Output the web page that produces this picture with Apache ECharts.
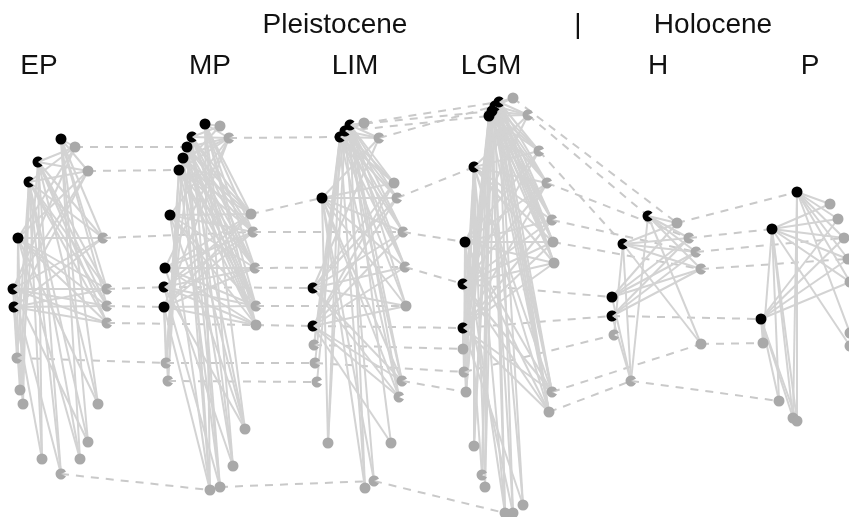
<!DOCTYPE html>
<html><head><meta charset="utf-8">
<script src="https://cdn.jsdelivr.net/npm/echarts@6/dist/echarts.min.js"></script>
<style>html,body{margin:0;padding:0;background:#fff}#c{width:849px;height:517px}</style>
</head><body><div id="c"></div>
<script>
// Period (network) labels and epoch labels
const periods = ['EP', 'MP', 'LIM', 'LGM', 'H', 'P'];
const epochs = ['Pleistocene', '|', 'Holocene'];

// Nodes of each period network: [x, y, role]
// roles: B = predator, BN = predator (notched), G = prey, GN = prey (notched)
const nodesEP = [[61,139,'B'],[75,147,'G'],[38,162,'BN'],[88,171,'G'],[29,182,'BN'],[18,238,'B'],[103,238,'GN'],[13,289,'BN'],[107,289,'GN'],[14,307,'BN'],[107,306,'GN'],[107,323,'GN'],[17,358,'GN'],[20,390,'G'],[23,404,'G'],[98,404,'G'],[88,442,'G'],[42,459,'G'],[80,459,'G'],[61,474,'GN']];
const nodesMP = [[205,124,'B'],[220,126,'G'],[192,137,'BN'],[229,138,'GN'],[187,147,'B'],[183,158,'B'],[179,170,'B'],[170,215,'B'],[251,214,'G'],[253,232,'GN'],[165,268,'B'],[255,268,'GN'],[164,287,'BN'],[164,307,'B'],[256,306,'GN'],[256,325,'G'],[166,363,'GN'],[168,381,'GN'],[245,429,'G'],[233,466,'G'],[210,490,'G'],[220,487,'G']];
const nodesLIM = [[350,125,'BN'],[345,131,'BN'],[340,137,'BN'],[364,123,'G'],[379,138,'GN'],[322,198,'B'],[394,183,'G'],[397,198,'GN'],[403,232,'GN'],[405,267,'GN'],[313,288,'BN'],[406,306,'G'],[313,326,'BN'],[314,345,'GN'],[315,363,'GN'],[317,382,'GN'],[402,381,'GN'],[399,397,'GN'],[328,443,'G'],[391,443,'G'],[365,488,'G'],[374,481,'GN']];
const nodesLGM = [[499,102,'BN'],[495,106,'BN'],[492,111,'B'],[489,116,'B'],[513,98,'G'],[528,115,'GN'],[539,151,'GN'],[474,167,'BN'],[547,183,'GN'],[552,220,'GN'],[465,242,'B'],[553,242,'G'],[554,263,'G'],[463,284,'BN'],[463,328,'BN'],[463,349,'G'],[464,372,'GN'],[466,392,'G'],[552,392,'GN'],[549,412,'G'],[474,446,'G'],[482,475,'GN'],[485,487,'G'],[523,505,'G'],[505,513,'G'],[513,513,'G']];
const nodesH = [[648,216,'BN'],[677,223,'G'],[623,244,'BN'],[689,238,'GN'],[696,252,'GN'],[701,269,'GN'],[612,297,'B'],[612,316,'BN'],[614,335,'GN'],[701,344,'G'],[631,381,'GN']];
const nodesP = [[797,192,'B'],[830,204,'G'],[838,219,'G'],[772,229,'B'],[844,238,'G'],[848,259,'G'],[850,282,'G'],[761,319,'B'],[763,343,'G'],[850,333,'G'],[850,346,'G'],[779,401,'G'],[793,418,'G'],[797,421,'G']];

// Trophic links inside each network: [predator, prey list]
const linksEP = [[0,[1,3,6,8,10,15,16,18]],[2,[1,3,6,8,10,11,15,17,19,13]],[4,[1,3,6,8,10,11,12,13,14,16,17,18,19]],[5,[1,3,6,8,10,11,12,14,15,18]],[7,[1,3,6,8,10,11,13,16,19]],[9,[3,6,8,10,11,12,14,17]]];
const linksMP = [[0,[1,3,8,9,11,14,15,18,19,20]],[2,[1,3,8,9,11,14,15,16,19,21]],[4,[3,8,9,11,14,15,18,20,21]],[5,[3,8,9,11,14,15,16,17,19,20]],[6,[1,3,8,9,11,14,15,16,17,18,21]],[7,[3,8,9,11,14,15,18,20]],[10,[3,8,9,11,14,15,19]],[12,[8,9,11,14,15,18,21]],[13,[3,8,9,11,14,15,16,17,20]]];
const linksLIM = [[0,[3,4,6,7,8,9,11,16,17,19,20]],[1,[3,4,6,7,8,9,13,16,18,21]],[2,[4,6,7,8,9,11,13,14,15,17,18,20]],[5,[4,6,7,8,9,11,16,17,18,20,21]],[10,[4,6,7,8,9,11,16,17]],[12,[6,7,8,9,11,16,17,19]]];
const linksLGM = [[0,[4,5,6,8,9,11,12,18,19,23,25]],[1,[4,5,6,8,9,11,12,18,19,22,24]],[2,[5,6,8,9,11,12,15,16,17,18,19,20,21,24]],[3,[5,6,8,9,11,12,15,16,17,19,20,21,22,23,25]],[7,[5,6,8,9,11,12,15,16,17,18,19,20,22,24]],[10,[5,6,8,9,11,12,16,17,18,19,21,24]],[13,[6,8,9,11,12,18,19,25]],[14,[8,9,11,12,15,16,17,18,19,23]]];
const linksH = [[0,[1,3,4,5,9,10]],[2,[1,3,4,5,8,9,10]],[6,[1,3,4,5,10]],[7,[3,4,5,10]]];
const linksP = [[0,[1,2,4,5,6,9,12,13]],[3,[1,2,4,5,6,8,10,11,12,13]],[7,[2,4,5,6,8,11,12,13]]];

// Same taxon in consecutive periods: [period A, node A, period B, node B]
const persist = [
  [0,1,1,4],[0,3,1,6],[0,6,1,9],[0,8,1,12],[0,10,1,13],[0,11,1,15],[0,12,1,16],[0,19,1,20],
  [1,3,2,2],[1,8,2,5],[1,9,2,8],[1,11,2,9],[1,12,2,10],[1,14,2,11],[1,15,2,12],[1,16,2,14],[1,17,2,15],[1,21,2,21],
  [2,3,3,0],[2,4,3,1],[2,0,3,2],[2,1,3,3],[2,7,3,7],[2,8,3,10],[2,9,3,13],[2,12,3,14],[2,13,3,15],[2,14,3,16],[2,16,3,17],[2,21,3,24],
  [3,4,4,1],[3,5,4,0],[3,6,4,2],[3,8,4,3],[3,9,4,4],[3,11,4,5],[3,13,4,6],[3,14,4,7],[3,16,4,8],[3,18,4,9],[3,19,4,10],
  [4,1,5,0],[4,3,5,3],[4,4,5,4],[4,5,5,5],[4,7,5,7],[4,9,5,8],[4,10,5,11]
];

const networks = [nodesEP, nodesMP, nodesLIM, nodesLGM, nodesH, nodesP];
const webs = [linksEP, linksMP, linksLIM, linksLGM, linksH, linksP];

const pos = (n) => [n[0], n[1]];
const solid = [];
webs.forEach((w, k) => w.forEach(([a, list]) => list.forEach(b => {
  solid.push({ coords: [pos(networks[k][a]), pos(networks[k][b])] });
})));
const dashed = persist.map(([p, a, q, b]) => ({ coords: [pos(networks[p][a]), pos(networks[q][b])] }));

const pacWide = 'path://M0,0 L8.19,-5.74 A10,10 0 1,0 8.19,5.74 Z M10,0 L10,0.01';
const pacThin = 'path://M0,0 L9.06,-4.23 A10,10 0 1,0 9.06,4.23 Z M10,0 L10,0.01';
const roles = {
  B: { color: '#000000', symbol: 'circle' },
  BN: { color: '#000000', symbol: pacWide },
  G: { color: '#a9a9a9', symbol: 'circle' },
  GN: { color: '#a9a9a9', symbol: pacThin }
};
const nodeSeries = Object.keys(roles).map(r => ({
  type: 'scatter', clip: false, z: 5, symbol: roles[r].symbol, symbolSize: 11,
  itemStyle: { color: roles[r].color, opacity: 1 },
  silent: true,
  data: networks.flat().filter(n => n[2] === r).map(pos)
}));

const periodX = [39, 210, 355, 491, 658, 810];
const epochX = [335, 578, 713];
const graphic = [];
periods.forEach((t, i) => graphic.push({ type: 'text', x: periodX[i], y: 66,
  style: { text: t, fill: '#111', font: '28px "Liberation Sans", Arial, sans-serif', textAlign: 'center', textVerticalAlign: 'middle' } }));
epochs.forEach((t, i) => graphic.push({ type: 'text', x: epochX[i], y: 25,
  style: { text: t, fill: '#111', font: '28px "Liberation Sans", Arial, sans-serif', textAlign: 'center', textVerticalAlign: 'middle' } }));

const chart = echarts.init(document.getElementById('c'));
chart.setOption({
  animation: false,
  backgroundColor: '#ffffff',
  grid: { left: 0, right: 0, top: 0, bottom: 0 },
  xAxis: { type: 'value', min: 0, max: 849, show: false },
  yAxis: { type: 'value', min: 0, max: 517, inverse: true, show: false },
  graphic: graphic,
  series: [
    { type: 'lines', coordinateSystem: 'cartesian2d', clip: false, z: 1, silent: true,
      lineStyle: { color: '#c9c9c9', width: 2, type: [8, 7], opacity: 1 }, data: dashed },
    { type: 'lines', coordinateSystem: 'cartesian2d', clip: false, z: 2, silent: true,
      lineStyle: { color: '#d3d3d3', width: 2, opacity: 1 }, data: solid },
    ...nodeSeries
  ]
});
</script>
</body></html>
